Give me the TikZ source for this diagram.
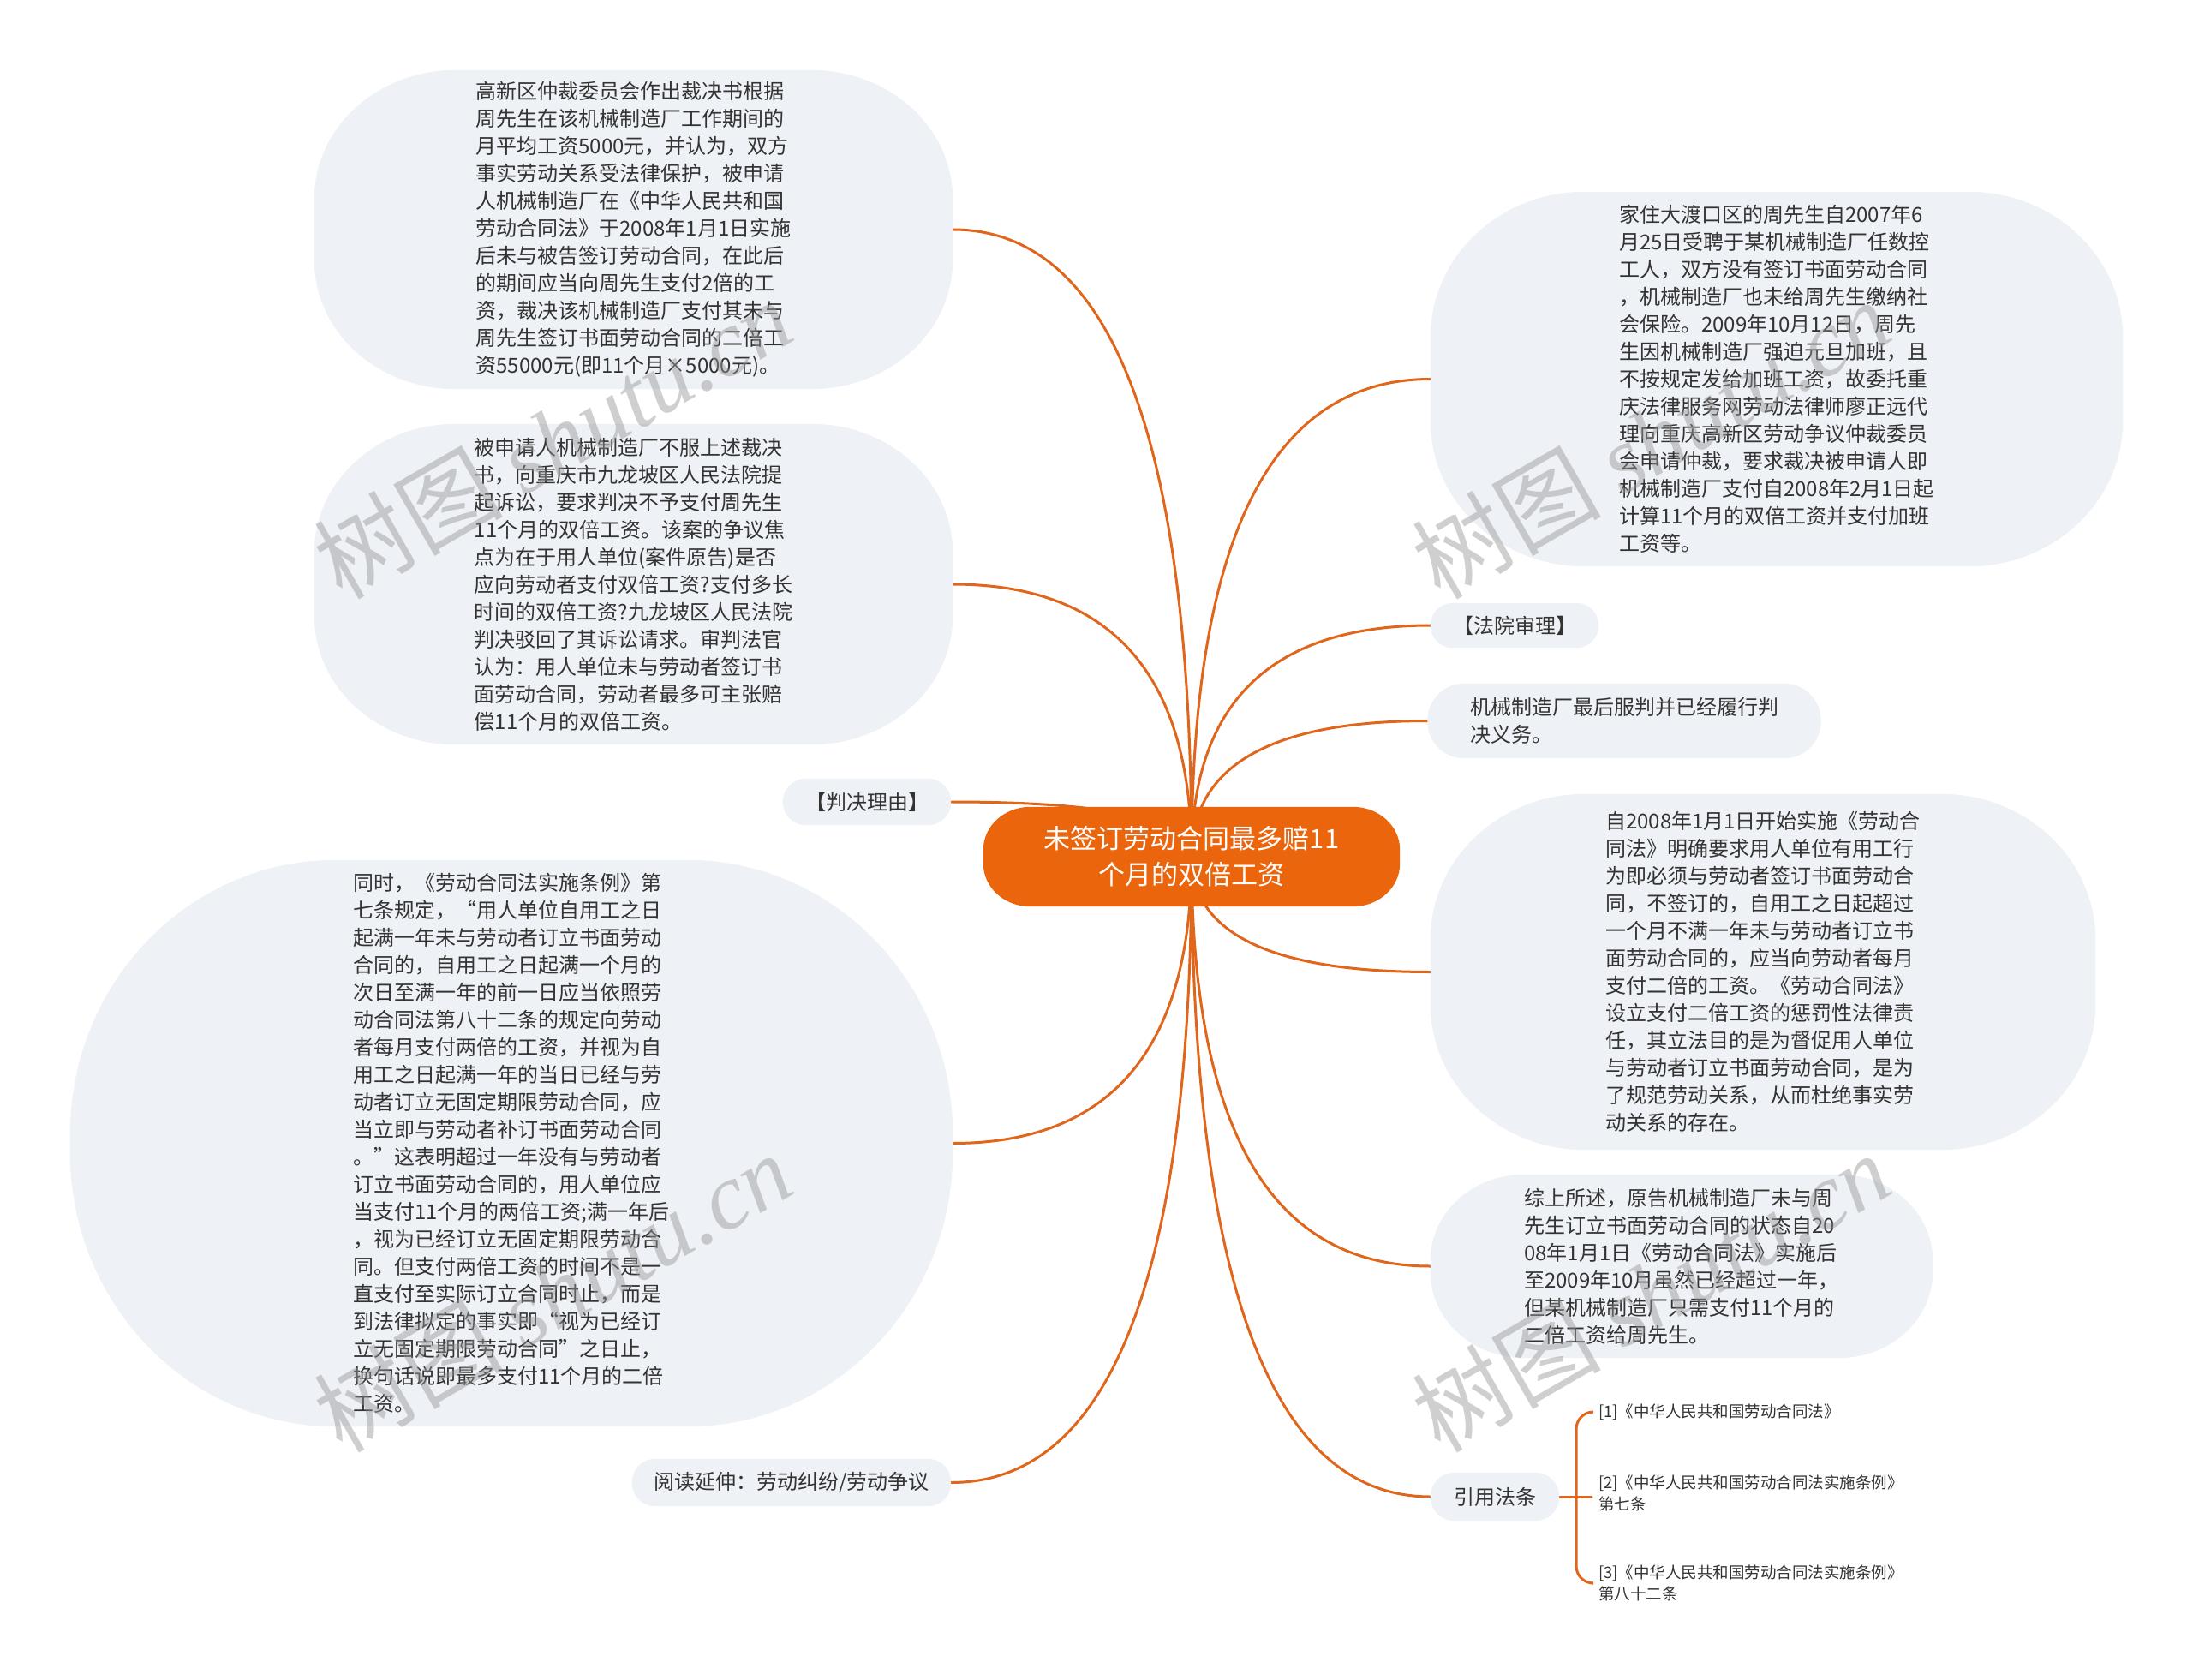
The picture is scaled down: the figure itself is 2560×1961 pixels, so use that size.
\documentclass[tikz,border=0pt]{standalone}
\usepackage{fontspec}
\usetikzlibrary{calc}
\newfontfamily\cjk{Noto Sans CJK SC}
\newfontfamily\wmserif{Liberation Serif}
\definecolor{linec}{RGB}{224,102,28}
\definecolor{rootc}{RGB}{234,101,12}
\definecolor{bubc}{RGB}{238,241,245}
\definecolor{txtc}{RGB}{51,51,51}
\definecolor{wmc}{RGB}{150,150,150}
\pgfdeclarelayer{canvas}
\pgfdeclarelayer{lines}
\pgfdeclarelayer{bubbles}
\pgfsetlayers{canvas,lines,bubbles,main}
\newcommand\bubshape[4]{%
  \fill[#4] ($(#1.north west)+(#2,0)$) -- ($(#1.north east)+(-#2,0)$)
    arc[start angle=90,end angle=0,x radius=#2,y radius=#3]
    -- ($(#1.south east)+(0,#3)$)
    arc[start angle=0,end angle=-90,x radius=#2,y radius=#3]
    -- ($(#1.south west)+(#2,0)$)
    arc[start angle=270,end angle=180,x radius=#2,y radius=#3]
    -- ($(#1.north west)+(0,-#3)$)
    arc[start angle=180,end angle=90,x radius=#2,y radius=#3]
    -- cycle;}
\begin{document}
\begin{tikzpicture}[x=1pt,y=1pt,
  txt/.style={shape=rectangle, inner sep=0pt, align=left, text=txtc,
    font=\cjk\fontsize{24}{32}\selectfont},
  citetxt/.style={txt, anchor=west, inner xsep=8pt,
    font=\cjk\fontsize{18.5}{25}\selectfont},
  link/.style={draw=linec, line width=3pt, line cap=round},
  branch/.style={to path={.. controls
      ($(\tikztostart)!0.6667!(\tikztostart |- \tikztotarget)$) and
      ($(\tikztotarget)!0.6667!(\tikztostart |- \tikztotarget)$) .. (\tikztotarget)}},
  wm/.style={text=wmc, opacity=0.45, rotate=30, inner sep=0pt,
    font=\cjk\fontsize{110}{110}\selectfont}]
\useasboundingbox (0,0) rectangle (2560,-1961);
\begin{pgfonlayer}{canvas}
  \fill[white] (0,0) rectangle (2560,-1961);
\end{pgfonlayer}

% root
\node[txt, text=white, align=center, minimum width=486pt, minimum height=116pt,
  font=\cjk\fontsize{31}{42}\selectfont] (M) at (1391,-1000)
  {未签订劳动合同最多赔11\\个月的双倍工资};

% left side
\node[txt, minimum width=745pt, minimum height=372pt] (A1) at (739.5,-268) {%
高新区仲裁委员会作出裁决书根据\\
周先生在该机械制造厂工作期间的\\
月平均工资5000元，并认为，双方\\
事实劳动关系受法律保护，被申请\\
人机械制造厂在《中华人民共和国\\
劳动合同法》于2008年1月1日实施\\
后未与被告签订劳动合同，在此后\\
的期间应当向周先生支付2倍的工\\
资，裁决该机械制造厂支付其未与\\
周先生签订书面劳动合同的二倍工\\
资55000元(即11个月×5000元)。};

\node[txt, minimum width=745pt, minimum height=374pt] (A2) at (739.5,-682) {%
被申请人机械制造厂不服上述裁决\\
书，向重庆市九龙坡区人民法院提\\
起诉讼，要求判决不予支付周先生\\
11个月的双倍工资。该案的争议焦\\
点为在于用人单位(案件原告)是否\\
应向劳动者支付双倍工资?支付多长\\
时间的双倍工资?九龙坡区人民法院\\
判决驳回了其诉讼请求。审判法官\\
认为：用人单位未与劳动者签订书\\
面劳动合同，劳动者最多可主张赔\\
偿11个月的双倍工资。};

\node[txt, minimum width=196pt, minimum height=54pt] (J) at (1012,-936) {【判决理由】};

\node[txt, minimum width=1030pt, minimum height=661pt] (A3) at (597,-1334.5) {%
同时，《劳动合同法实施条例》第\\
七条规定，“用人单位自用工之日\\
起满一年未与劳动者订立书面劳动\\
合同的，自用工之日起满一个月的\\
次日至满一年的前一日应当依照劳\\
动合同法第八十二条的规定向劳动\\
者每月支付两倍的工资，并视为自\\
用工之日起满一年的当日已经与劳\\
动者订立无固定期限劳动合同，应\\
当立即与劳动者补订书面劳动合同\\
。”这表明超过一年没有与劳动者\\
订立书面劳动合同的，用人单位应\\
当支付11个月的两倍工资;满一年后\\
，视为已经订立无固定期限劳动合\\
同。但支付两倍工资的时间不是一\\
直支付至实际订立合同时止，而是\\
到法律拟定的事实即“视为已经订\\
立无固定期限劳动合同”之日止，\\
换句话说即最多支付11个月的二倍\\
工资。};

\node[txt, minimum width=372pt, minimum height=55pt] (R) at (924,-1730.5) {阅读延伸：劳动纠纷/劳动争议};

% right side
\node[txt, minimum width=808pt, minimum height=437pt] (B1) at (2074,-442.5) {%
家住大渡口区的周先生自2007年6\\
月25日受聘于某机械制造厂任数控\\
工人，双方没有签订书面劳动合同\\
，机械制造厂也未给周先生缴纳社\\
会保险。2009年10月12日，周先\\
生因机械制造厂强迫元旦加班，且\\
不按规定发给加班工资，故委托重\\
庆法律服务网劳动法律师廖正远代\\
理向重庆高新区劳动争议仲裁委员\\
会申请仲裁，要求裁决被申请人即\\
机械制造厂支付自2008年2月1日起\\
计算11个月的双倍工资并支付加班\\
工资等。};

\node[txt, minimum width=196pt, minimum height=52pt] (F) at (1768,-730) {【法院审理】};

\node[txt, minimum width=459pt, minimum height=87pt] (K) at (1896,-841.5) {%
机械制造厂最后服判并已经履行判\\决义务。};

\node[txt, minimum width=776pt, minimum height=415pt] (B2) at (2058,-1134.5) {%
自2008年1月1日开始实施《劳动合\\
同法》明确要求用人单位有用工行\\
为即必须与劳动者签订书面劳动合\\
同，不签订的，自用工之日起超过\\
一个月不满一年未与劳动者订立书\\
面劳动合同的，应当向劳动者每月\\
支付二倍的工资。《劳动合同法》\\
设立支付二倍工资的惩罚性法律责\\
任，其立法目的是为督促用人单位\\
与劳动者订立书面劳动合同，是为\\
了规范劳动关系，从而杜绝事实劳\\
动关系的存在。};

\node[txt, minimum width=586pt, minimum height=214pt] (B3) at (1963,-1478) {%
综上所述，原告机械制造厂未与周\\
先生订立书面劳动合同的状态自20\\
08年1月1日《劳动合同法》实施后\\
至2009年10月虽然已经超过一年，\\
但某机械制造厂只需支付11个月的\\
二倍工资给周先生。};

\node[txt, minimum width=150pt, minimum height=56pt] (Y) at (1745,-1747) {引用法条};

\node[citetxt] (C1) at (1858,-1648) {[1]《中华人民共和国劳动合同法》};
\node[citetxt] (C2) at (1858,-1743) {[2]《中华人民共和国劳动合同法实施条例》\\第七条};
\node[citetxt] (C3) at (1858,-1848) {[3]《中华人民共和国劳动合同法实施条例》\\第八十二条};
\coordinate (yj) at (1840,-1747);

% bubble shapes
\begin{pgfonlayer}{bubbles}
  \bubshape{M}{55}{50}{rootc}
  \bubshape{A1}{165}{150}{bubc}
  \bubshape{A2}{165}{150}{bubc}
  \bubshape{J}{27}{27}{bubc}
  \bubshape{A3}{310}{320}{bubc}
  \bubshape{R}{27}{27}{bubc}
  \bubshape{B1}{180}{170}{bubc}
  \bubshape{F}{26}{26}{bubc}
  \bubshape{K}{43}{43}{bubc}
  \bubshape{B2}{180}{170}{bubc}
  \bubshape{B3}{110}{100}{bubc}
  \bubshape{Y}{28}{28}{bubc}
\end{pgfonlayer}

% connectors
\begin{pgfonlayer}{lines}
  \foreach \t in {A1,A2,J,A3,R} \draw[link] (M.center) to[branch] (\t.east);
  \foreach \t in {B1,F,K,B2,B3,Y} \draw[link] (M.center) to[branch] (\t.west);
  \draw[link] (Y.east) -- (Y.east -| C2.west);
  \draw[link, rounded corners=20pt] (yj) |- (C1.west);
  \draw[link, rounded corners=20pt] (yj) |- (C3.west);
\end{pgfonlayer}

% watermarks
\node[wm] (wm1) at (645,-512) {树图 {\wmserif\itshape shutu.cn}};
\node[wm] (wm2) at (1927,-512) {树图 {\wmserif\itshape shutu.cn}};
\node[wm] (wm3) at (645,-1508) {树图 {\wmserif\itshape shutu.cn}};
\node[wm] (wm4) at (1927,-1508) {树图 {\wmserif\itshape shutu.cn}};
\end{tikzpicture}
\end{document}
